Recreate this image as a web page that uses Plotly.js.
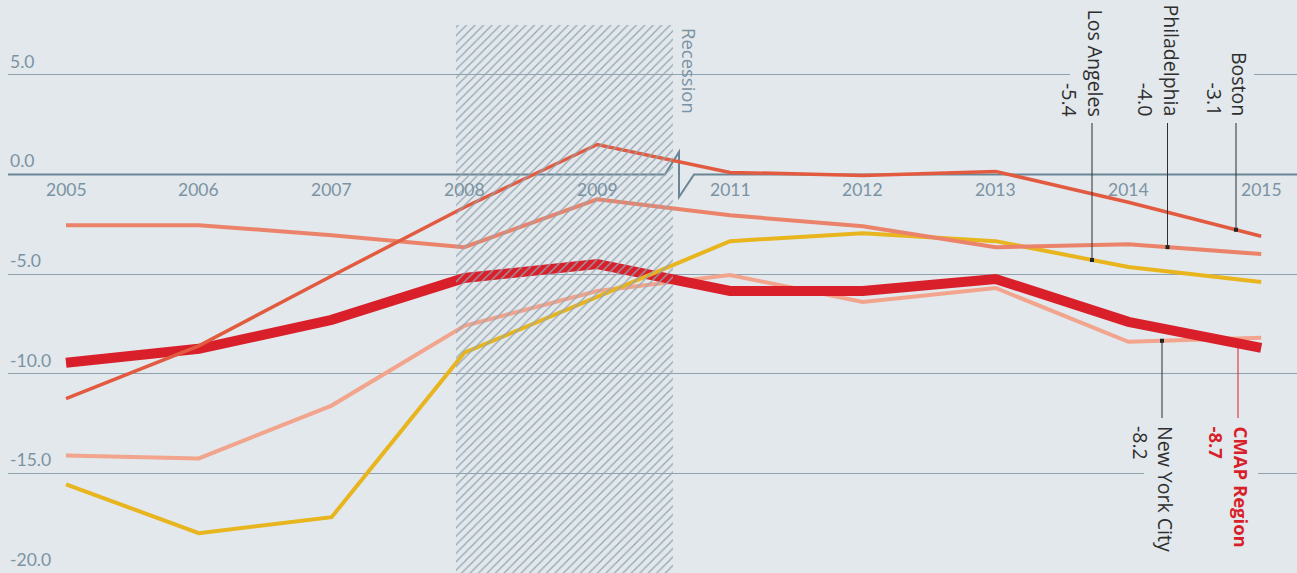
<!DOCTYPE html>
<html>
<head>
<meta charset="utf-8">
<script src="https://cdn.plot.ly/plotly-3.0.1.min.js"></script>
<style>
  html, body { margin: 0; padding: 0; background: #e2e8ec; }
  #chart { width: 1297px; height: 573px; }
</style>
</head>
<body>
<div id="chart"></div>
<script>
// ---- data ----
const years = ['2005','2006','2007','2008','2009','2011','2012','2013','2014','2015'];
const boston       = [-11.25, -8.6, -5.1, -1.65, 1.5, 0.1, -0.05, 0.15, -1.4, -3.1];
const philadelphia = [-2.55, -2.55, -3.05, -3.65, -1.25, -2.05, -2.6, -3.65, -3.5, -4.0];
const losAngeles   = [-15.55, -18.0, -17.2, -8.95, -6.15, -3.35, -2.95, -3.35, -4.65, -5.4];
const newYorkCity  = [-14.1, -14.25, -11.6, -7.6, -5.85, -5.05, -6.4, -5.7, -8.4, -8.2];
const cmapRegion   = [-9.45, -8.75, -7.3, -5.2, -4.5, -5.85, -5.85, -5.25, -7.4, -8.7];
const yTickVals = [5, 0, -5, -10, -15, -20];
const yTickText = ['5.0', '0.0', '-5.0', '-10.0', '-15.0', '-20.0'];

// ---- layout constants ----
const W = 1297, H = 573, ML = 8;
const X0PX = 66, DXPX = 132.8;
const pxToX = px => (px - X0PX) / DXPX;
const xIdx = years.map((y, i) => i);
const xRange = [pxToX(ML), pxToX(W)];
const yRange = [-20, 8.75];
const pxPerUnit = H / (yRange[1] - yRange[0]);
const pxToY = py => yRange[1] - py / pxPerUnit;

const BG = '#e2e8ec';
const TICKC = '#7b93a3';
const GRIDC = '#8ea2af';

function interp(arr, x) {
  const i = Math.min(Math.floor(x), arr.length - 2);
  const t = x - i;
  return arr[i] * (1 - t) + arr[i + 1] * t;
}

const series = [
  {name: 'New York City', y: newYorkCity, color: '#f2a48d', width: 4},
  {name: 'CMAP Region',   y: cmapRegion,  color: '#d91f2a', width: 10},
  {name: 'Los Angeles',   y: losAngeles,  color: '#e8b51f', width: 4},
  {name: 'Philadelphia',  y: philadelphia,color: '#eb836a', width: 4},
  {name: 'Boston',        y: boston,      color: '#e25b40', width: 3.5}
];

const traces = series.map(s => ({
  type: 'scatter', mode: 'lines', x: xIdx, y: s.y, name: s.name,
  line: {color: s.color, width: s.width, shape: 'linear'},
  hoverinfo: 'skip'
}));

// recession hatch (drawn above lines)
const recL = pxToX(456), recR = pxToX(673), recTop = pxToY(25);
traces.push({
  type: 'scatter', mode: 'lines', x: [recL, recR, recR, recL, recL],
  y: [yRange[0], yRange[0], recTop, recTop, yRange[0]],
  fill: 'toself', fillcolor: 'rgba(0,0,0,0)',
  fillpattern: {shape: '/', fgcolor: '#93a5b1', bgcolor: 'rgba(0,0,0,0)', size: 6, solidity: 0.2},
  line: {width: 0, color: 'rgba(0,0,0,0)'}, hoverinfo: 'skip'
});

// leader lines for end labels
const leaders = [
  {label: 'Los Angeles', val: '-5.4', data: losAngeles, px: 1092, top: true, color: '#2e2e2e', bold: false},
  {label: 'Philadelphia', val: '-4.0', data: philadelphia, px: 1167.5, top: true, color: '#2e2e2e', bold: false},
  {label: 'Boston', val: '-3.1', data: boston, px: 1236, top: true, color: '#2e2e2e', bold: false},
  {label: 'New York City', val: '-8.2', data: newYorkCity, px: 1162, top: false, color: '#2e2e2e', bold: false},
  {label: 'CMAP Region', val: '-8.7', data: cmapRegion, px: 1238, top: false, color: '#d91f2a', bold: true}
];

const shapes = [];
const annotations = [];
const dotX = [], dotY = [];

leaders.forEach(l => {
  const x = pxToX(l.px);
  const yOn = interp(l.data, x);
  const yEnd = l.top ? pxToY(123) : pxToY(418);
  shapes.push({type: 'line', xref: 'x', yref: 'y', x0: x, x1: x, y0: yOn, y1: yEnd,
    line: {color: l.color, width: 1}, layer: 'above'});
  if (!l.bold) { dotX.push(x); dotY.push(yOn); }
  const txt = l.bold ? '<b>' + l.label + '<br>' + l.val + '</b>' : l.label + '<br>' + l.val;
  annotations.push({
    xref: 'x', yref: 'y', x: x, y: l.top ? pxToY(118) : pxToY(424),
    text: txt, showarrow: false, textangle: 90,
    xanchor: 'center', yanchor: l.top ? 'bottom' : 'top', xshift: -9,
    align: l.top ? 'right' : 'left',
    font: {family: 'Open Sans, sans-serif', size: l.bold ? 18.5 : 19.5, color: l.color}
  });
});

traces.push({type: 'scatter', mode: 'markers', x: dotX, y: dotY,
  marker: {symbol: 'square', size: 4, color: '#222222'}, hoverinfo: 'skip'});

// zero line with axis break
const zL = pxToX(665), zPk = pxToX(679), zR = pxToX(694);
shapes.push({type: 'path', xref: 'x', yref: 'y',
  path: `M ${xRange[0]} 0 L ${zL} 0 L ${zPk} ${pxToY(152)} L ${zPk} ${pxToY(197)} L ${zR} 0 L ${xRange[1]} 0`,
  line: {color: '#6a8596', width: 2}, layer: 'between'});

// gaps in gridlines behind the labels
shapes.push({type: 'rect', xref: 'x', yref: 'y', x0: pxToX(1070), x1: pxToX(1254),
  y0: 4.7, y1: 5.3, fillcolor: BG, line: {width: 0}, layer: 'between'});
shapes.push({type: 'rect', xref: 'x', yref: 'y', x0: pxToX(1144), x1: pxToX(1258),
  y0: -15.3, y1: -14.7, fillcolor: BG, line: {width: 0}, layer: 'between'});

// y tick labels (above gridlines)
yTickVals.forEach((v, i) => {
  annotations.push({xref: 'paper', yref: 'y', x: 0, y: v, text: yTickText[i],
    showarrow: false, xanchor: 'left', yanchor: 'bottom', yshift: 1,
    font: {family: 'Lato, sans-serif', size: 17.5, color: TICKC}});
});
// x tick labels (under the zero line)
years.forEach((yr, i) => {
  annotations.push({xref: 'x', yref: 'y', x: xIdx[i], y: 0, text: yr,
    showarrow: false, xanchor: 'center', yanchor: 'top', yshift: -3,
    font: {family: 'Lato, sans-serif', size: 17.5, color: TICKC}});
});
// recession label
annotations.push({xref: 'x', yref: 'y', x: pxToX(690), y: pxToY(26), text: 'Recession',
  showarrow: false, textangle: 90, xanchor: 'center', yanchor: 'top',
  font: {family: 'Open Sans, sans-serif', size: 18.5, color: TICKC}});

const layout = {
  width: W, height: H,
  margin: {l: ML, r: 0, t: 0, b: 0, pad: 0},
  paper_bgcolor: BG, plot_bgcolor: BG,
  showlegend: false,
  xaxis: {type: 'linear', range: xRange, showgrid: false, zeroline: false,
    showticklabels: false, ticks: '', showline: false, fixedrange: true},
  yaxis: {type: 'linear', range: yRange, tickvals: yTickVals.filter(v => v !== 0),
    showgrid: true, gridcolor: GRIDC, gridwidth: 1, zeroline: false,
    showticklabels: false, ticks: '', showline: false, fixedrange: true},
  shapes: shapes,
  annotations: annotations
};

Plotly.newPlot('chart', traces, layout, {displayModeBar: false, staticPlot: true});
</script>
</body>
</html>
